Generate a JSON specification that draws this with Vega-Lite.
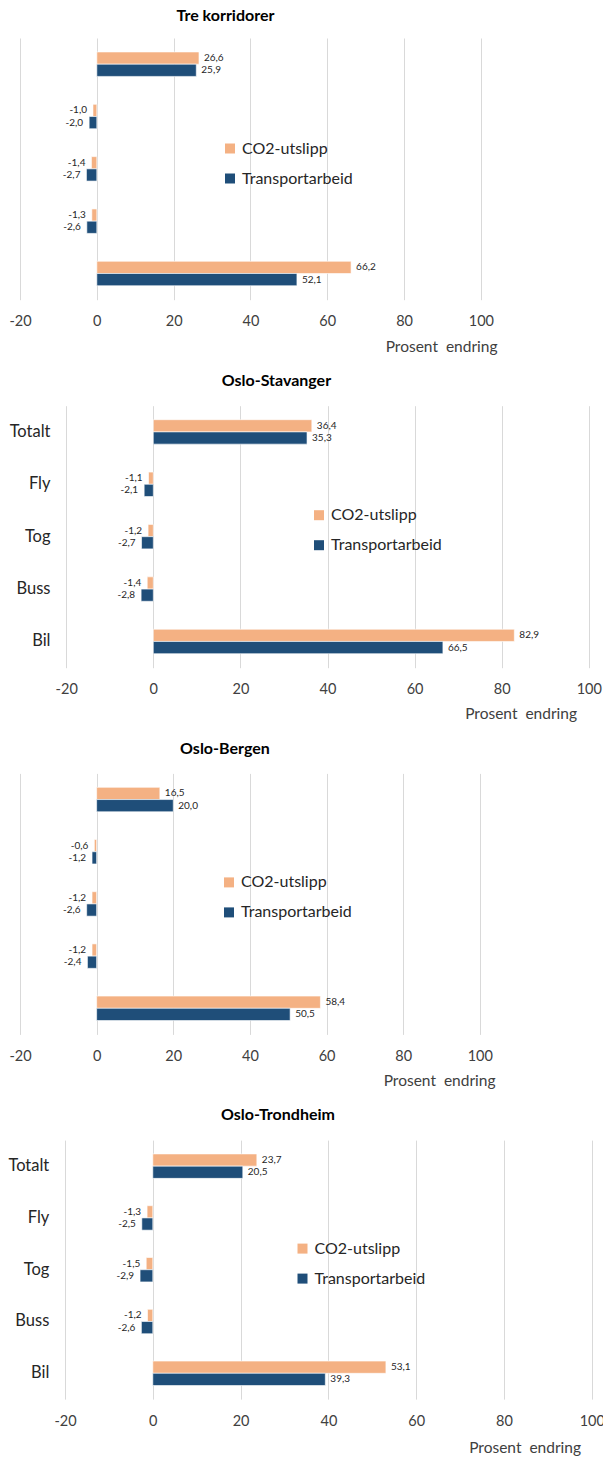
{
  "$schema": "https://vega.github.io/schema/vega-lite/v6.json",
  "padding": {"left": 0, "top": 7, "right": 0, "bottom": 0},
  "data": {
    "values": [
      {"korridor": "Tre korridorer", "modus": "Totalt", "serie": "CO2-utslipp", "endring": 26.6},
      {"korridor": "Tre korridorer", "modus": "Totalt", "serie": "Transportarbeid", "endring": 25.9},
      {"korridor": "Tre korridorer", "modus": "Fly", "serie": "CO2-utslipp", "endring": -1.0},
      {"korridor": "Tre korridorer", "modus": "Fly", "serie": "Transportarbeid", "endring": -2.0},
      {"korridor": "Tre korridorer", "modus": "Tog", "serie": "CO2-utslipp", "endring": -1.4},
      {"korridor": "Tre korridorer", "modus": "Tog", "serie": "Transportarbeid", "endring": -2.7},
      {"korridor": "Tre korridorer", "modus": "Buss", "serie": "CO2-utslipp", "endring": -1.3},
      {"korridor": "Tre korridorer", "modus": "Buss", "serie": "Transportarbeid", "endring": -2.6},
      {"korridor": "Tre korridorer", "modus": "Bil", "serie": "CO2-utslipp", "endring": 66.2},
      {"korridor": "Tre korridorer", "modus": "Bil", "serie": "Transportarbeid", "endring": 52.1},
      {"korridor": "Oslo-Stavanger", "modus": "Totalt", "serie": "CO2-utslipp", "endring": 36.4},
      {"korridor": "Oslo-Stavanger", "modus": "Totalt", "serie": "Transportarbeid", "endring": 35.3},
      {"korridor": "Oslo-Stavanger", "modus": "Fly", "serie": "CO2-utslipp", "endring": -1.1},
      {"korridor": "Oslo-Stavanger", "modus": "Fly", "serie": "Transportarbeid", "endring": -2.1},
      {"korridor": "Oslo-Stavanger", "modus": "Tog", "serie": "CO2-utslipp", "endring": -1.2},
      {"korridor": "Oslo-Stavanger", "modus": "Tog", "serie": "Transportarbeid", "endring": -2.7},
      {"korridor": "Oslo-Stavanger", "modus": "Buss", "serie": "CO2-utslipp", "endring": -1.4},
      {"korridor": "Oslo-Stavanger", "modus": "Buss", "serie": "Transportarbeid", "endring": -2.8},
      {"korridor": "Oslo-Stavanger", "modus": "Bil", "serie": "CO2-utslipp", "endring": 82.9},
      {"korridor": "Oslo-Stavanger", "modus": "Bil", "serie": "Transportarbeid", "endring": 66.5},
      {"korridor": "Oslo-Bergen", "modus": "Totalt", "serie": "CO2-utslipp", "endring": 16.5},
      {"korridor": "Oslo-Bergen", "modus": "Totalt", "serie": "Transportarbeid", "endring": 20.0},
      {"korridor": "Oslo-Bergen", "modus": "Fly", "serie": "CO2-utslipp", "endring": -0.6},
      {"korridor": "Oslo-Bergen", "modus": "Fly", "serie": "Transportarbeid", "endring": -1.2},
      {"korridor": "Oslo-Bergen", "modus": "Tog", "serie": "CO2-utslipp", "endring": -1.2},
      {"korridor": "Oslo-Bergen", "modus": "Tog", "serie": "Transportarbeid", "endring": -2.6},
      {"korridor": "Oslo-Bergen", "modus": "Buss", "serie": "CO2-utslipp", "endring": -1.2},
      {"korridor": "Oslo-Bergen", "modus": "Buss", "serie": "Transportarbeid", "endring": -2.4},
      {"korridor": "Oslo-Bergen", "modus": "Bil", "serie": "CO2-utslipp", "endring": 58.4},
      {"korridor": "Oslo-Bergen", "modus": "Bil", "serie": "Transportarbeid", "endring": 50.5},
      {"korridor": "Oslo-Trondheim", "modus": "Totalt", "serie": "CO2-utslipp", "endring": 23.7},
      {"korridor": "Oslo-Trondheim", "modus": "Totalt", "serie": "Transportarbeid", "endring": 20.5},
      {"korridor": "Oslo-Trondheim", "modus": "Fly", "serie": "CO2-utslipp", "endring": -1.3},
      {"korridor": "Oslo-Trondheim", "modus": "Fly", "serie": "Transportarbeid", "endring": -2.5},
      {"korridor": "Oslo-Trondheim", "modus": "Tog", "serie": "CO2-utslipp", "endring": -1.5},
      {"korridor": "Oslo-Trondheim", "modus": "Tog", "serie": "Transportarbeid", "endring": -2.9},
      {"korridor": "Oslo-Trondheim", "modus": "Buss", "serie": "CO2-utslipp", "endring": -1.2},
      {"korridor": "Oslo-Trondheim", "modus": "Buss", "serie": "Transportarbeid", "endring": -2.6},
      {"korridor": "Oslo-Trondheim", "modus": "Bil", "serie": "CO2-utslipp", "endring": 53.1},
      {"korridor": "Oslo-Trondheim", "modus": "Bil", "serie": "Transportarbeid", "endring": 39.3}
    ]
  },
  "spacing": 105.7,
  "bounds": "flush",
  "resolve": {"scale": {"color": "independent", "x": "independent", "y": "independent"}, "legend": {"color": "independent"}},
  "vconcat": [
    {
      "title": {"text": "Tre korridorer", "dx": -25, "offset": 14.5},
      "width": 460.9,
      "height": 261.7,
      "transform": [{"filter": "datum.korridor === 'Tre korridorer'"}],
      "encoding": {
        "y": {"field": "modus", "type": "nominal", "sort": ["Totalt", "Fly", "Tog", "Buss", "Bil"],
              "scale": {"paddingInner": 0.533, "paddingOuter": 0.267},
              "axis": {"labels": false, "title": null}},
        "yOffset": {"field": "serie", "type": "nominal", "sort": ["CO2-utslipp", "Transportarbeid"], "scale": {"paddingInner": 0, "paddingOuter": 0}},
        "x": {"field": "endring", "type": "quantitative", "scale": {"domain": [-20, 100], "nice": false},
              "axis": {"values": [-20, 0, 20, 40, 60, 80, 100], "title": "Prosent\u00a0 endring", "titleX": 477, "titleY": 47}}
      },
      "layer": [
        {"mark": {"type": "bar", "stroke": "white", "strokeWidth": 0.6},
         "encoding": {"color": {"field": "serie", "type": "nominal", "sort": ["CO2-utslipp", "Transportarbeid"], "scale": {"range": ["#F4B183", "#1F4E79"]},
                                "legend": {"title": null, "orient": "none", "legendX": 202, "legendY": 102.5}}}},
        {"transform": [{"filter": "datum.endring >= 0"}], "mark": {"type": "text", "align": "left", "dx": 5, "baseline": "middle"},
         "encoding": {"text": {"field": "endring", "type": "quantitative", "format": ".1f"}}},
        {"transform": [{"filter": "datum.endring < 0"}], "mark": {"type": "text", "align": "right", "dx": -6, "baseline": "middle"},
         "encoding": {"text": {"field": "endring", "type": "quantitative", "format": ".1f"}}}
      ]
    },
    {
      "title": {"text": "Oslo-Stavanger", "dx": -28, "offset": 16.5},
      "width": 568.8,
      "height": 262,
      "transform": [{"filter": "datum.korridor === 'Oslo-Stavanger'"}],
      "encoding": {
        "y": {"field": "modus", "type": "nominal", "sort": ["Totalt", "Fly", "Tog", "Buss", "Bil"],
              "scale": {"paddingInner": 0.533, "paddingOuter": 0.267},
              "axis": {"labelPadding": -30, "title": null}},
        "yOffset": {"field": "serie", "type": "nominal", "sort": ["CO2-utslipp", "Transportarbeid"], "scale": {"paddingInner": 0, "paddingOuter": 0}},
        "x": {"field": "endring", "type": "quantitative", "scale": {"domain": [-30.61, 100], "nice": false},
              "axis": {"values": [-20, 0, 20, 40, 60, 80, 100], "title": "Prosent\u00a0 endring", "titleX": 556.5, "titleY": 46}}
      },
      "layer": [
        {"mark": {"type": "bar", "stroke": "white", "strokeWidth": 0.6},
         "encoding": {"color": {"field": "serie", "type": "nominal", "sort": ["CO2-utslipp", "Transportarbeid"], "scale": {"range": ["#F4B183", "#1F4E79"]},
                                "legend": {"title": null, "orient": "none", "legendX": 291, "legendY": 101.5}}}},
        {"transform": [{"filter": "datum.endring >= 0"}], "mark": {"type": "text", "align": "left", "dx": 5, "baseline": "middle"},
         "encoding": {"text": {"field": "endring", "type": "quantitative", "format": ".1f"}}},
        {"transform": [{"filter": "datum.endring < 0"}], "mark": {"type": "text", "align": "right", "dx": -6, "baseline": "middle"},
         "encoding": {"text": {"field": "endring", "type": "quantitative", "format": ".1f"}}}
      ]
    },
    {
      "title": {"text": "Oslo-Bergen", "dx": -25, "offset": 16.5},
      "width": 459.8,
      "height": 261,
      "transform": [{"filter": "datum.korridor === 'Oslo-Bergen'"}],
      "encoding": {
        "y": {"field": "modus", "type": "nominal", "sort": ["Totalt", "Fly", "Tog", "Buss", "Bil"],
              "scale": {"paddingInner": 0.533, "paddingOuter": 0.267},
              "axis": {"labels": false, "title": null}},
        "yOffset": {"field": "serie", "type": "nominal", "sort": ["CO2-utslipp", "Transportarbeid"], "scale": {"paddingInner": 0, "paddingOuter": 0}},
        "x": {"field": "endring", "type": "quantitative", "scale": {"domain": [-20, 100], "nice": false},
              "axis": {"values": [-20, 0, 20, 40, 60, 80, 100], "title": "Prosent\u00a0 endring", "titleX": 475, "titleY": 46}}
      },
      "layer": [
        {"mark": {"type": "bar", "stroke": "white", "strokeWidth": 0.6},
         "encoding": {"color": {"field": "serie", "type": "nominal", "sort": ["CO2-utslipp", "Transportarbeid"], "scale": {"range": ["#F4B183", "#1F4E79"]},
                                "legend": {"title": null, "orient": "none", "legendX": 201, "legendY": 101}}}},
        {"transform": [{"filter": "datum.endring >= 0"}], "mark": {"type": "text", "align": "left", "dx": 5, "baseline": "middle"},
         "encoding": {"text": {"field": "endring", "type": "quantitative", "format": ".1f"}}},
        {"transform": [{"filter": "datum.endring < 0"}], "mark": {"type": "text", "align": "right", "dx": -6, "baseline": "middle"},
         "encoding": {"text": {"field": "endring", "type": "quantitative", "format": ".1f"}}}
      ]
    },
    {
      "title": {"text": "Oslo-Trondheim", "dx": -28, "offset": 17},
      "width": 571.8,
      "height": 259,
      "transform": [{"filter": "datum.korridor === 'Oslo-Trondheim'"}],
      "encoding": {
        "y": {"field": "modus", "type": "nominal", "sort": ["Totalt", "Fly", "Tog", "Buss", "Bil"],
              "scale": {"paddingInner": 0.533, "paddingOuter": 0.267},
              "axis": {"labelPadding": -28.8, "title": null}},
        "yOffset": {"field": "serie", "type": "nominal", "sort": ["CO2-utslipp", "Transportarbeid"], "scale": {"paddingInner": 0, "paddingOuter": 0}},
        "x": {"field": "endring", "type": "quantitative", "scale": {"domain": [-30.25, 100], "nice": false},
              "axis": {"values": [-20, 0, 20, 40, 60, 80, 100], "title": "Prosent\u00a0 endring", "titleX": 560.5, "titleY": 48}}
      },
      "layer": [
        {"mark": {"type": "bar", "stroke": "white", "strokeWidth": 0.6},
         "encoding": {"color": {"field": "serie", "type": "nominal", "sort": ["CO2-utslipp", "Transportarbeid"], "scale": {"range": ["#F4B183", "#1F4E79"]},
                                "legend": {"title": null, "orient": "none", "legendX": 274.5, "legendY": 100.5}}}},
        {"transform": [{"filter": "datum.endring >= 0"}], "mark": {"type": "text", "align": "left", "dx": 5, "baseline": "middle"},
         "encoding": {"text": {"field": "endring", "type": "quantitative", "format": ".1f"}}},
        {"transform": [{"filter": "datum.endring < 0"}], "mark": {"type": "text", "align": "right", "dx": -6, "baseline": "middle"},
         "encoding": {"text": {"field": "endring", "type": "quantitative", "format": ".1f"}}}
      ]
    }
  ],
  "config": {
    "font": "Lato",
    "locale": {"number": {"decimal": ",", "thousands": "\u00a0", "grouping": [3], "currency": ["", " kr"], "minus": "-"}},
    "view": {"stroke": null},
    "title": {"font": "Lato", "fontSize": 16, "fontWeight": "bold", "color": "#000000", "anchor": "middle", "frame": "group"},
    "axis": {"labelFont": "Lato", "labelColor": "#404040", "titleFont": "Lato", "titleColor": "#404040", "titleFontWeight": "normal", "titleFontSize": 15.5},
    "axisX": {"labelFontSize": 14.5, "labelPadding": 15, "labelFlush": false, "ticks": false, "domain": false, "grid": true, "gridColor": "#D9D9D9", "gridWidth": 1,
              "titleAnchor": "end", "titleAlign": "right", "titleBaseline": "middle"},
    "axisY": {"labelColor": "#262626", "labelFontSize": 16.5, "ticks": false, "domain": false, "grid": false, "minExtent": 19.5, "maxExtent": 19.5},
    "legend": {"labelFont": "Lato", "labelFontSize": 16, "labelColor": "#262626", "symbolType": "square", "symbolSize": 100, "symbolStrokeWidth": 0, "rowPadding": 14, "labelOffset": 4, "padding": 0},
    "text": {"font": "Lato", "fontSize": 10, "color": "#262626"}
  }
}
